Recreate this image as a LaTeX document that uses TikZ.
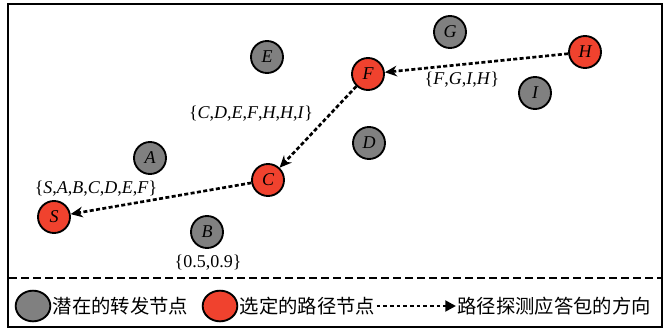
\documentclass[tikz,border=0pt]{standalone}
\usepackage{fontspec}
\setmainfont{Liberation Serif}
\newfontfamily\cjk{Noto Sans CJK SC}
\usepackage{tikz}
\usetikzlibrary{arrows.meta,shapes.geometric}
\definecolor{nodered}{RGB}{240,66,46}
\definecolor{nodegray}{RGB}{128,128,128}
\tikzstyle{relay} = [draw=black, line width=1.4pt, circle, minimum size=24pt, inner sep=0pt, fill=nodegray, font=\fontsize{13.5}{15}\selectfont\itshape]
\tikzstyle{chosen} = [relay, fill=nodered]
\tikzstyle{probe} = [line width=2pt, dash pattern=on 3pt off 1.8pt, -{Stealth[length=9pt,width=8pt]}]
\tikzstyle{setlabel} = [inner sep=1pt]
\tikzstyle{keytext} = [anchor=west, inner sep=1pt, font=\cjk\fontsize{14.5}{16}\selectfont]
\tikzstyle{keymark} = [ellipse, minimum width=26pt, minimum height=23pt]

\begin{document}
\begin{tikzpicture}[x=0.75pt, y=-0.75pt, font=\fontsize{13.5}{15}\selectfont]
\useasboundingbox (0,0) rectangle (666,331);
% frame and legend separator
\draw [line width=1.6pt] (8,4) rectangle (662,327);
\draw [line width=1.1pt, dash pattern=on 6pt off 3pt] (9,278) -- (661,278);

% potential relay nodes
\node [relay] (E) at (267,57) {E};
\node [relay] (G) at (450,32) {G};
\node [relay] (I) at (535,93) {I};
\node [relay] (D) at (369,143) {D};
\node [relay] (A) at (150,158) {A};
\node [relay] (B) at (207,232) {B};

% selected path
\node [chosen] (H) at (585,52) {H};
\node [chosen] (F) at (368,74) {F};
\node [chosen] (C) at (268,180) {C};
\node [chosen] (S) at (54,217) {S};

\draw [probe] (H) -- (F);
\draw [probe] (F) -- (C);
\draw [probe] (C) -- (S);

% neighbour sets
\node [setlabel] (lH) at (462,80) {\{\textit{F},\textit{G},\textit{I},\textit{H}\}};
\node [setlabel] (lF) at (251,114) {\{\textit{C},\textit{D},\textit{E},\textit{F},\textit{H},\textit{H},\textit{I}\}};
\node [setlabel] (lC) at (96,189) {\{\textit{S},\textit{A},\textit{B},\textit{C},\textit{D},\textit{E},\textit{F}\}};
\node [setlabel] (lB) at (208,263) {\{0.5,0.9\}};

% legend
\node [relay, keymark] (k1) at (33,306) {};
\node [keytext] (t1) at (k1.east) {潜在的转发节点};
\node [chosen, keymark] (k2) at (220,306) {};
\node [keytext] (t2) at (k2.east) {选定的路径节点};
\coordinate (k3) at (456,306);
\draw [line width=2.2pt, dash pattern=on 2.6pt off 2.4pt, -{Triangle[length=8pt,width=8pt]}] (t2.east) -- (k3);
\node [keytext] (t3) at (k3) {路径探测应答包的方向};
\end{tikzpicture}
\end{document}
